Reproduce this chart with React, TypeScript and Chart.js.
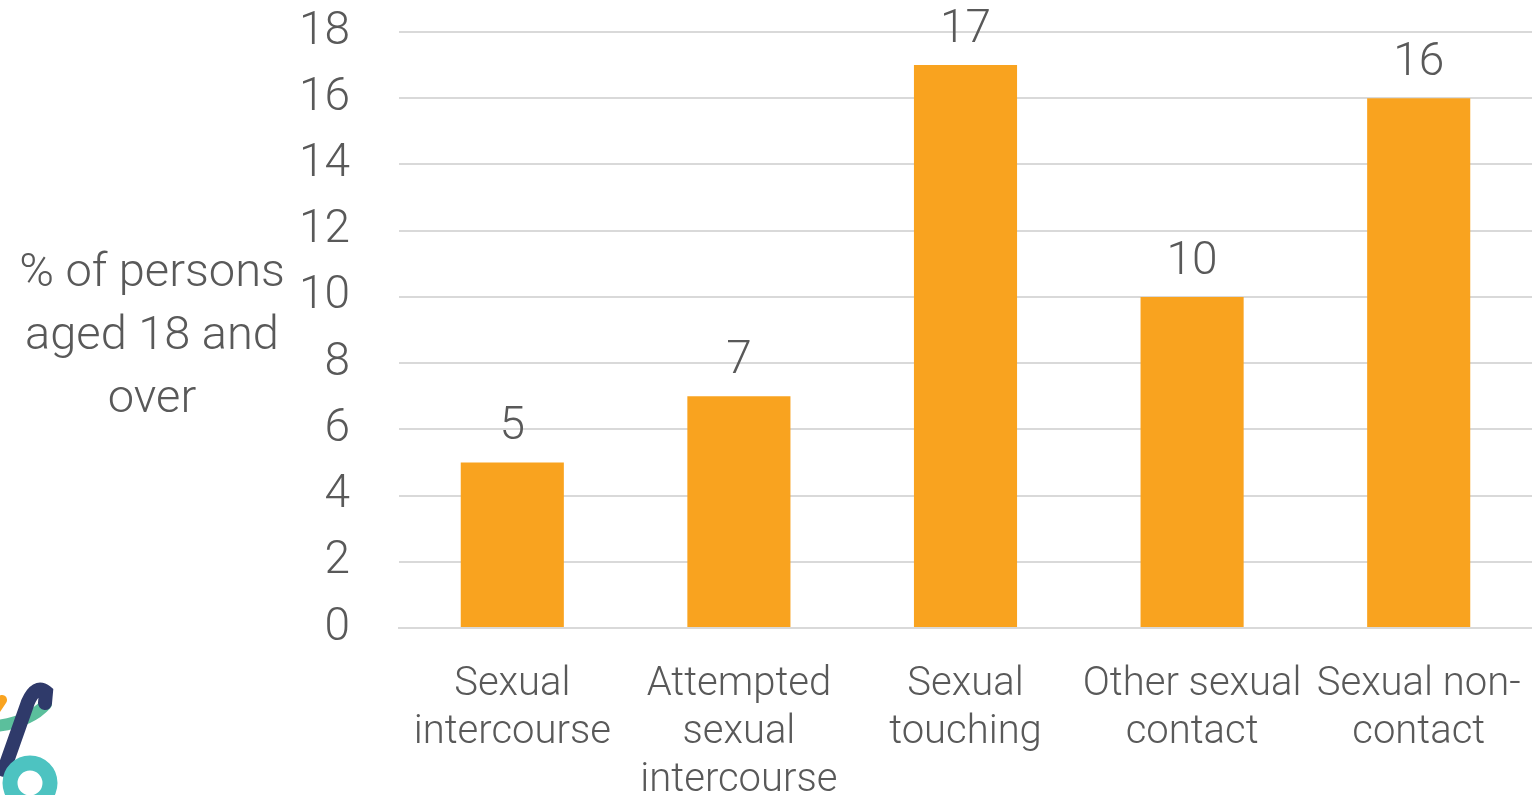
import React, { useEffect, useRef } from "react";
import { Chart, registerables } from "chart.js";

Chart.register(...registerables);

const categories: string[][] = [
  ["Sexual", "intercourse"],
  ["Attempted", "sexual", "intercourse"],
  ["Sexual", "touching"],
  ["Other sexual", "contact"],
  ["Sexual non-", "contact"],
];
const values: number[] = [5, 7, 17, 10, 16];
const yTitleLines: string[] = ["% of persons", "aged 18 and", "over"];
const yMin = 0;
const yMax = 18;
const yStep = 2;

const FONT = "Roboto, 'Noto Sans', sans-serif";
const TEXT = "#595959";
const BAR = "#F9A31F";
const GRID = "#D9D9D9";

const decorPlugin = {
  id: "decor",
  afterDatasetsDraw(chart: any) {
    const ctx = chart.ctx;
    const meta = chart.getDatasetMeta(0);
    ctx.save();
    ctx.font = `300 46px ${FONT}`;
    ctx.fillStyle = TEXT;
    ctx.textAlign = "center";
    ctx.textBaseline = "alphabetic";
    meta.data.forEach((bar: any, i: number) => {
      ctx.fillText(String(values[i]), bar.x, bar.y - 23);
    });
    ctx.restore();
  },
  afterDraw(chart: any) {
    const ctx = chart.ctx;
    ctx.save();
    // y axis title (horizontal, three lines)
    ctx.font = `300 47px ${FONT}`;
    ctx.fillStyle = TEXT;
    ctx.textAlign = "center";
    ctx.textBaseline = "alphabetic";
    yTitleLines.forEach((t, i) => ctx.fillText(t, 152, 286 + i * 63));

    // partial logo, bottom-left
    ctx.lineCap = "round";
    ctx.strokeStyle = "#F9A31F";
    ctx.lineWidth = 10;
    ctx.beginPath();
    ctx.moveTo(-6, 712);
    ctx.lineTo(2, 700);
    ctx.stroke();

    ctx.strokeStyle = "#5BBF9C";
    ctx.lineWidth = 12;
    ctx.beginPath();
    ctx.moveTo(-4, 726);
    ctx.quadraticCurveTo(30, 722, 46, 704);
    ctx.stroke();

    ctx.strokeStyle = "#2F3A6A";
    ctx.lineWidth = 14;
    ctx.beginPath();
    ctx.moveTo(4, 770);
    ctx.lineTo(28, 702);
    ctx.quadraticCurveTo(36, 684, 46, 692);
    ctx.lineTo(45, 703);
    ctx.stroke();

    ctx.strokeStyle = "#4DC3C1";
    ctx.lineWidth = 15;
    ctx.beginPath();
    ctx.arc(30, 783, 20, 0, Math.PI * 2);
    ctx.stroke();
    ctx.restore();
  },
};

export default function App() {
  const ref = useRef<HTMLCanvasElement | null>(null);
  useEffect(() => {
    document.body.style.margin = "0";
    const canvas = ref.current!;
    const chart = new Chart(canvas, {
      type: "bar",
      data: {
        labels: categories,
        datasets: [
          {
            data: values,
            backgroundColor: BAR,
            borderWidth: 0,
            categoryPercentage: 1,
            barPercentage: 0.455,
          },
        ],
      },
      options: {
        responsive: false,
        animation: false,
        devicePixelRatio: 1,
        layout: { padding: { left: 279, top: 32, right: 0, bottom: 0 } },
        plugins: {
          legend: { display: false },
          tooltip: { enabled: false },
        },
        scales: {
          x: {
            afterFit: (scale: any) => {
              scale.paddingLeft = 0;
              scale.paddingRight = 0;
            },
            grid: { display: false, drawTicks: false },
            border: { display: true, color: GRID, width: 2 },
            ticks: {
              color: TEXT,
              font: { family: FONT, size: 40, weight: "300", lineHeight: 1.2 },
              padding: 33,
              maxRotation: 0,
              autoSkip: false,
            },
          },
          y: {
            min: yMin,
            max: yMax,
            afterFit: (scale: any) => {
              scale.width = 120;
              scale.paddingTop = 0;
              scale.paddingBottom = 0;
            },
            grid: { color: GRID, lineWidth: 2, drawTicks: false },
            border: { display: false },
            ticks: {
              stepSize: yStep,
              color: TEXT,
              font: { family: FONT, size: 46, weight: "300", lineHeight: 1.2 },
              padding: 49,
            },
          },
        },
      },
      plugins: [decorPlugin],
    });
    return () => chart.destroy();
  }, []);
  return (
    <div
      style={{
        position: "fixed",
        left: 0,
        top: 0,
        width: 1532,
        height: 795,
        overflow: "hidden",
        background: "#fff",
      }}
    >
      <canvas ref={ref} width={1532} height={838} style={{ display: "block" }} />
    </div>
  );
}
